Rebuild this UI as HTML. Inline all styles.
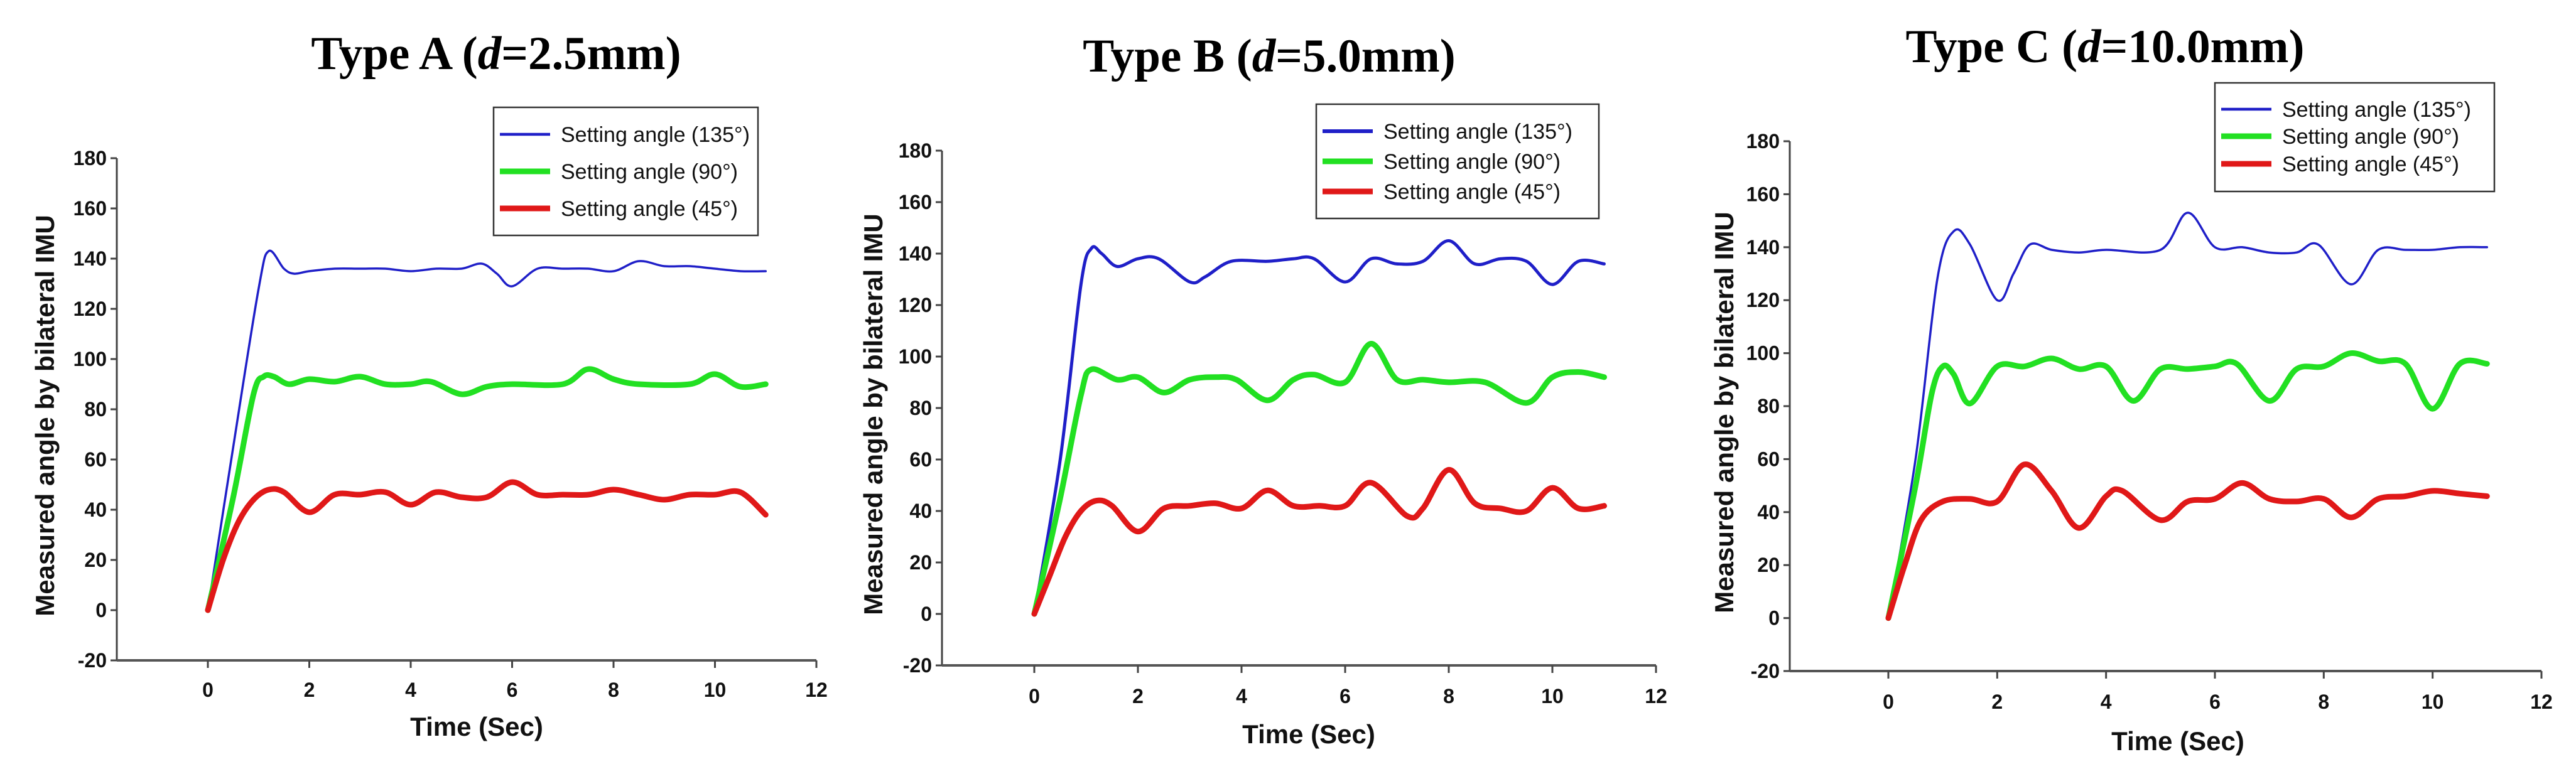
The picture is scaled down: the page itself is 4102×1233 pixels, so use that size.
<!DOCTYPE html>
<html><head><meta charset="utf-8"><style>
html,body{margin:0;padding:0;background:#fff;overflow:hidden;}
svg{display:block;}
text{font-family:"Liberation Sans",Arial,sans-serif;}
.title{font-family:"Liberation Serif","Times New Roman",serif;font-weight:bold;font-size:75px;fill:#000;}
.tick{font-weight:bold;font-size:32px;fill:#111;}
.axt{font-weight:bold;font-size:42px;fill:#111;}
.leg{font-size:34px;fill:#111;}
</style></head><body>
<svg id="fig" width="4102" height="1233" viewBox="0 0 4102 1233" xmlns="http://www.w3.org/2000/svg"></svg>
<script>
// ----- data -----
const xTicks=[0,2,4,6,8,10,12];
const yTicks=[-20,0,20,40,60,80,100,120,140,160,180];
const legendLabels=["Setting angle (135°)","Setting angle (90°)","Setting angle (45°)"];
const titlesMain=["Type A (","Type B (","Type C ("];
const titlesVal=["=2.5mm)","=5.0mm)","=10.0mm)"];

const aBlueT=[0,0.5,1.0,1.2,1.5,1.7,2,2.5,3,3.5,4,4.5,5,5.4,5.7,6,6.5,7,7.5,8,8.5,9,9.5,10,10.5,11];
const aBlueV=[0,65,128,143,136,134,135,136,136,136,135,136,136,138,134,129,136,136,136,135,139,137,137,136,135,135];
const aGreenT=[0,0.5,0.9,1.1,1.3,1.6,2,2.5,3,3.5,4,4.4,5,5.5,6,7,7.5,8,8.5,9.5,10,10.5,11];
const aGreenV=[0,45,86,93,93,90,92,91,93,90,90,91,86,89,90,90,96,92,90,90,94,89,90];
const aRedT=[0,0.3,0.6,0.9,1.2,1.5,2,2.5,3,3.5,4,4.5,5,5.5,6,6.5,7,7.5,8,8.5,9,9.5,10,10.5,11];
const aRedV=[0,20,35,44,48,47,39,46,46,47,42,47,45,45,51,46,46,46,48,46,44,46,46,47,38];

const bBlueT=[0,0.5,0.9,1.1,1.3,1.6,2,2.4,3,3.3,3.8,4.5,5,5.4,6,6.5,7,7.5,8,8.5,9,9.5,10,10.5,11];
const bBlueV=[0,60,128,142,140,135,138,138,129,131,137,137,138,138,129,138,136,137,145,136,138,137,128,137,136];
const bGreenT=[0,0.5,0.9,1.1,1.6,2,2.5,3,3.5,3.9,4.5,5,5.4,6,6.5,7,7.5,8,8.7,9.5,10,10.5,11];
const bGreenV=[0,45,85,95,91,92,86,91,92,91,83,91,93,90,105,91,91,90,90,82,92,94,92];
const bRedT=[0,0.3,0.6,0.9,1.2,1.5,2,2.5,3,3.5,4,4.5,5,5.5,6,6.5,7.2,7.5,8,8.5,9,9.5,10,10.5,11];
const bRedV=[0,15,30,40,44,42,32,41,42,43,41,48,42,42,42,51,38,41,56,43,41,40,49,41,42];

const cBlueT=[0,0.5,0.9,1.2,1.5,2,2.3,2.6,3,3.5,4,5,5.5,6,6.5,7,7.5,7.9,8.5,9,9.5,10,10.5,11];
const cBlueV=[0,60,128,146,141,120,130,141,139,138,139,139,153,140,140,138,138,141,126,139,139,139,140,140];
const cGreenT=[0,0.5,0.8,1,1.2,1.5,2,2.5,3,3.5,4,4.5,5,5.5,6,6.4,7,7.5,8,8.5,9,9.5,10,10.5,11];
const cGreenV=[0,50,85,95,92,81,95,95,98,94,95,82,94,94,95,96,82,94,95,100,97,96,79,96,96];
const cRedT=[0,0.3,0.6,1,1.5,2,2.5,3,3.5,4,4.3,5,5.5,6,6.5,7,7.5,8,8.5,9,9.5,10,10.5,11];
const cRedV=[0,20,37,44,45,44,58,48,34,46,48,37,44,45,51,45,44,45,38,45,46,48,47,46];

// ----- layout -----
const NS="http://www.w3.org/2000/svg";
const svg=document.getElementById('fig');
function mk(tag,attrs,parent){const e=document.createElementNS(NS,tag);for(const k in attrs)e.setAttribute(k,attrs[k]);(parent||svg).appendChild(e);return e;}

const panels=[
 {id:'a',ax:186,x0:331,x12:1300,y180:252,ym20:1052,tx:790,ty:110,leg:[786,171,1207,375],ly:[214,273,332],yt:71,xtx:759,xty:1172,tl:1110,blueW:3.5,
  series:[[aBlueT,aBlueV],[aGreenT,aGreenV],[aRedT,aRedV]]},
 {id:'b',ax:1500,x0:1647,x12:2637,y180:240,ym20:1060,tx:2021,ty:114,leg:[2096,166,2546,348],ly:[209,257,305],yt:1390,xtx:2084,xty:1184,tl:1120,blueW:5,
  series:[[bBlueT,bBlueV],[bGreenT,bGreenV],[bRedT,bRedV]]},
 {id:'c',ax:2850,x0:3007,x12:4047,y180:225,ym20:1069,tx:3352,ty:99,leg:[3527,132,3972,305],ly:[174,217,261],yt:2745,xtx:3468,xty:1195,tl:1129,blueW:3.5,
  series:[[cBlueT,cBlueV],[cGreenT,cGreenV],[cRedT,cRedV]]}
];
const colors=["#1f1fc8","#22e022","#e01818"];

function smooth(pts){
  let d="M"+pts[0][0].toFixed(1)+","+pts[0][1].toFixed(1);
  for(let i=0;i<pts.length-1;i++){
    const p0=pts[Math.max(0,i-1)],p1=pts[i],p2=pts[i+1],p3=pts[Math.min(pts.length-1,i+2)];
    const c1=[p1[0]+(p2[0]-p0[0])/6,p1[1]+(p2[1]-p0[1])/6];
    const c2=[p2[0]-(p3[0]-p1[0])/6,p2[1]-(p3[1]-p1[1])/6];
    d+="C"+c1[0].toFixed(1)+","+c1[1].toFixed(1)+" "+c2[0].toFixed(1)+","+c2[1].toFixed(1)+" "+p2[0].toFixed(1)+","+p2[1].toFixed(1);
  }
  return d;
}

panels.forEach((p,pi)=>{
  const g=mk('g',{});
  
  
  const X=t=>p.x0+(t/12)*(p.x12-p.x0);
  const Y=v=>p.ym20-((v+20)/200)*(p.ym20-p.y180);
  const tt=mk('text',{x:p.tx,y:p.ty,'text-anchor':'middle','class':'title'},g);
  
  
  tt.appendChild(document.createTextNode(titlesMain[pi]));
  const ti=mk('tspan',{'font-style':'italic'},tt);ti.textContent='d';
  tt.appendChild(document.createTextNode(titlesVal[pi]));
  const ya=mk('line',{x1:p.ax,y1:p.y180,x2:p.ax,y2:p.ym20,stroke:'#444','stroke-width':3},g);
  
  
  const xa=mk('line',{x1:p.ax,y1:p.ym20,x2:p.x12,y2:p.ym20,stroke:'#555','stroke-width':4},g);
  
  
  yTicks.forEach(v=>{
    mk('line',{x1:p.ax-10,y1:Y(v),x2:p.ax,y2:Y(v),stroke:'#444','stroke-width':3},g);
    const t=mk('text',{x:p.ax-16,y:Y(v)+11,'text-anchor':'end','class':'tick'},g);
    
    
    t.textContent=v;
  });
  xTicks.forEach(v=>{
    mk('line',{x1:X(v),y1:p.ym20,x2:X(v),y2:p.ym20+12,stroke:'#444','stroke-width':3},g);
    const t=mk('text',{x:X(v),y:p.tl,'text-anchor':'middle','class':'tick'},g);
    
    
    t.textContent=v;
  });
  const yt=mk('text',{x:0,y:0,'text-anchor':'middle','class':'axt',transform:'translate('+(p.yt+15)+','+((p.y180+p.ym20)/2+10)+') rotate(-90)'},g);
  
  
  yt.textContent='Measured angle by bilateral IMU';
  const xt=mk('text',{x:p.xtx,y:p.xty,'text-anchor':'middle','class':'axt'},g);
  
  
  xt.textContent='Time (Sec)';
  p.series.forEach((s,si)=>{
    const pts=s[0].map((t,i)=>[X(t),Y(s[1][i])]);
    const path=mk('path',{d:smooth(pts),fill:'none',stroke:colors[si],'stroke-width':si===0?p.blueW:9,'stroke-linejoin':'round','stroke-linecap':'round'},g);
    
    
  });
  const L=p.leg;
  const lg=mk('g',{},g);
  
  
  mk('rect',{x:L[0],y:L[1],width:L[2]-L[0],height:L[3]-L[1],fill:'#fff',stroke:'#333','stroke-width':2.5},lg);
  legendLabels.forEach((lab,i)=>{
    mk('line',{x1:L[0]+10,x2:L[0]+90,y1:p.ly[i],y2:p.ly[i],stroke:colors[i],'stroke-width':i===0?p.blueW+1:9},lg);
    const t=mk('text',{x:L[0]+107,y:p.ly[i]+12,'class':'leg'},lg);
    
    
    t.textContent=lab;
  });
});
</script>
</body></html>
